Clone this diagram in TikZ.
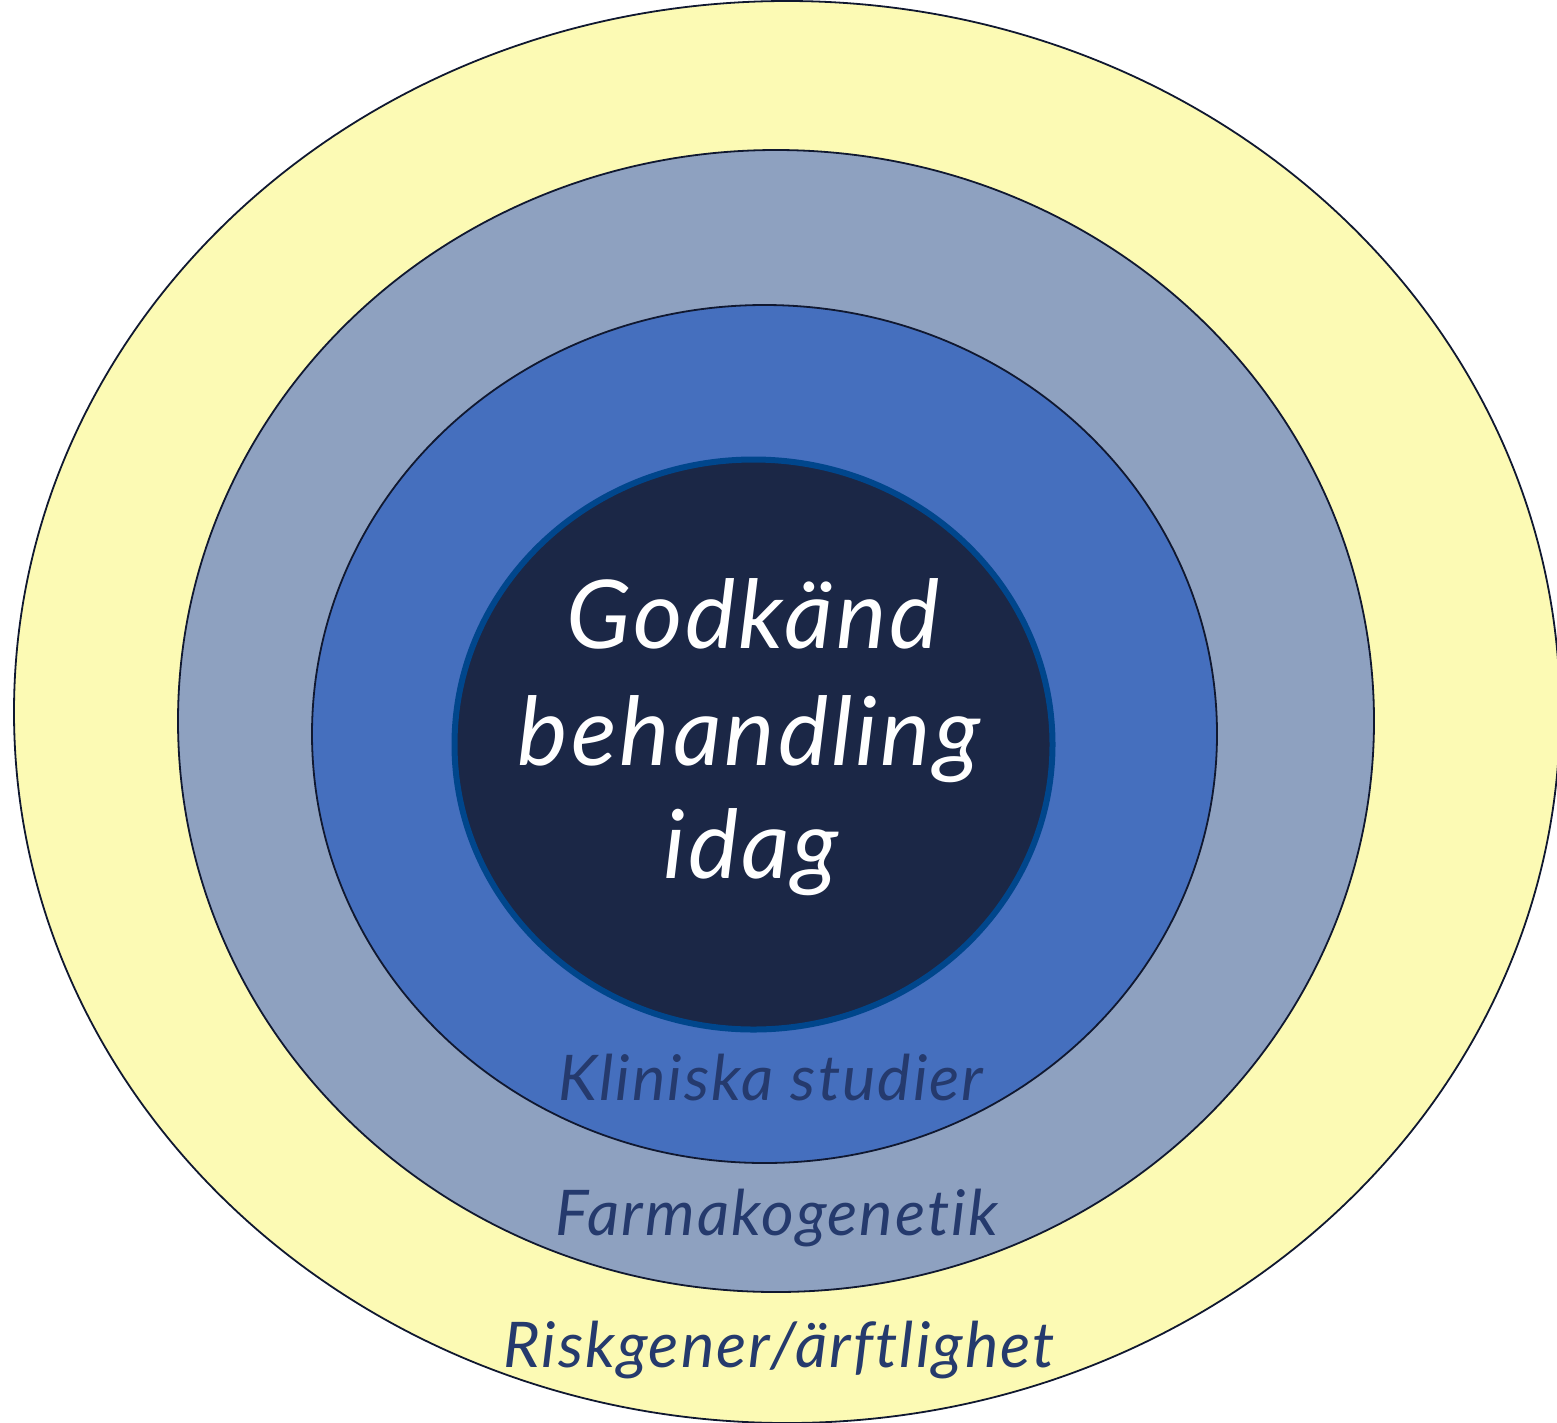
\documentclass[tikz,border=0pt]{standalone}
\usepackage{fontspec}
\setmainfont{Lato}[Ligatures=NoCommon, LetterSpace=3.2]
\definecolor{ringyellow}{HTML}{FCFAB4}
\definecolor{ringgray}{HTML}{8EA1C0}
\definecolor{ringblue}{HTML}{456FBE}
\definecolor{corenavy}{HTML}{1B2746}
\definecolor{coreedge}{HTML}{00468C}
\definecolor{labelnavy}{HTML}{253A6D}
\definecolor{ringline}{HTML}{101830}
\tikzset{
  ring/.style = {draw=ringline, line width=1.8pt},
  core/.style = {draw=coreedge, line width=6pt, fill=corenavy},
  ringlabel/.style = {anchor=base, text=labelnavy, font=\fontsize{63}{70}\selectfont\itshape},
  corelabel/.style = {anchor=base, text=white, font=\fontsize{95}{115}\selectfont\itshape}
}
\begin{document}
\begin{tikzpicture}[x=1pt, y=-1pt]
\useasboundingbox (0,0) rectangle (1557,1422);

% rings, outside in
\draw [ring, fill=ringyellow] (787,712) ellipse [x radius=773, y radius=711];
\draw [ring, fill=ringgray] (776,721) ellipse [x radius=598, y radius=571];
\draw [ring, fill=ringblue] (764.5,734) ellipse [x radius=452.5, y radius=429];
\draw [core] (753.5,744.5) ellipse [x radius=299, y radius=285];

% core text
\node (godkand) [corelabel] at (753,648) {Godkänd};
\node (behandling) [corelabel] at (749,765) {behandling};
\node (idag) [corelabel] at (751,878) {idag};

% ring labels
\node (kliniska) [ringlabel] at (771,1100) {Kliniska studier};
\node (farmako) [ringlabel] at (777,1235) {Farmakogenetik};
\node (risk) [ringlabel] at (779,1367) {Riskgener/ärftlighet};

\end{tikzpicture}
\end{document}
